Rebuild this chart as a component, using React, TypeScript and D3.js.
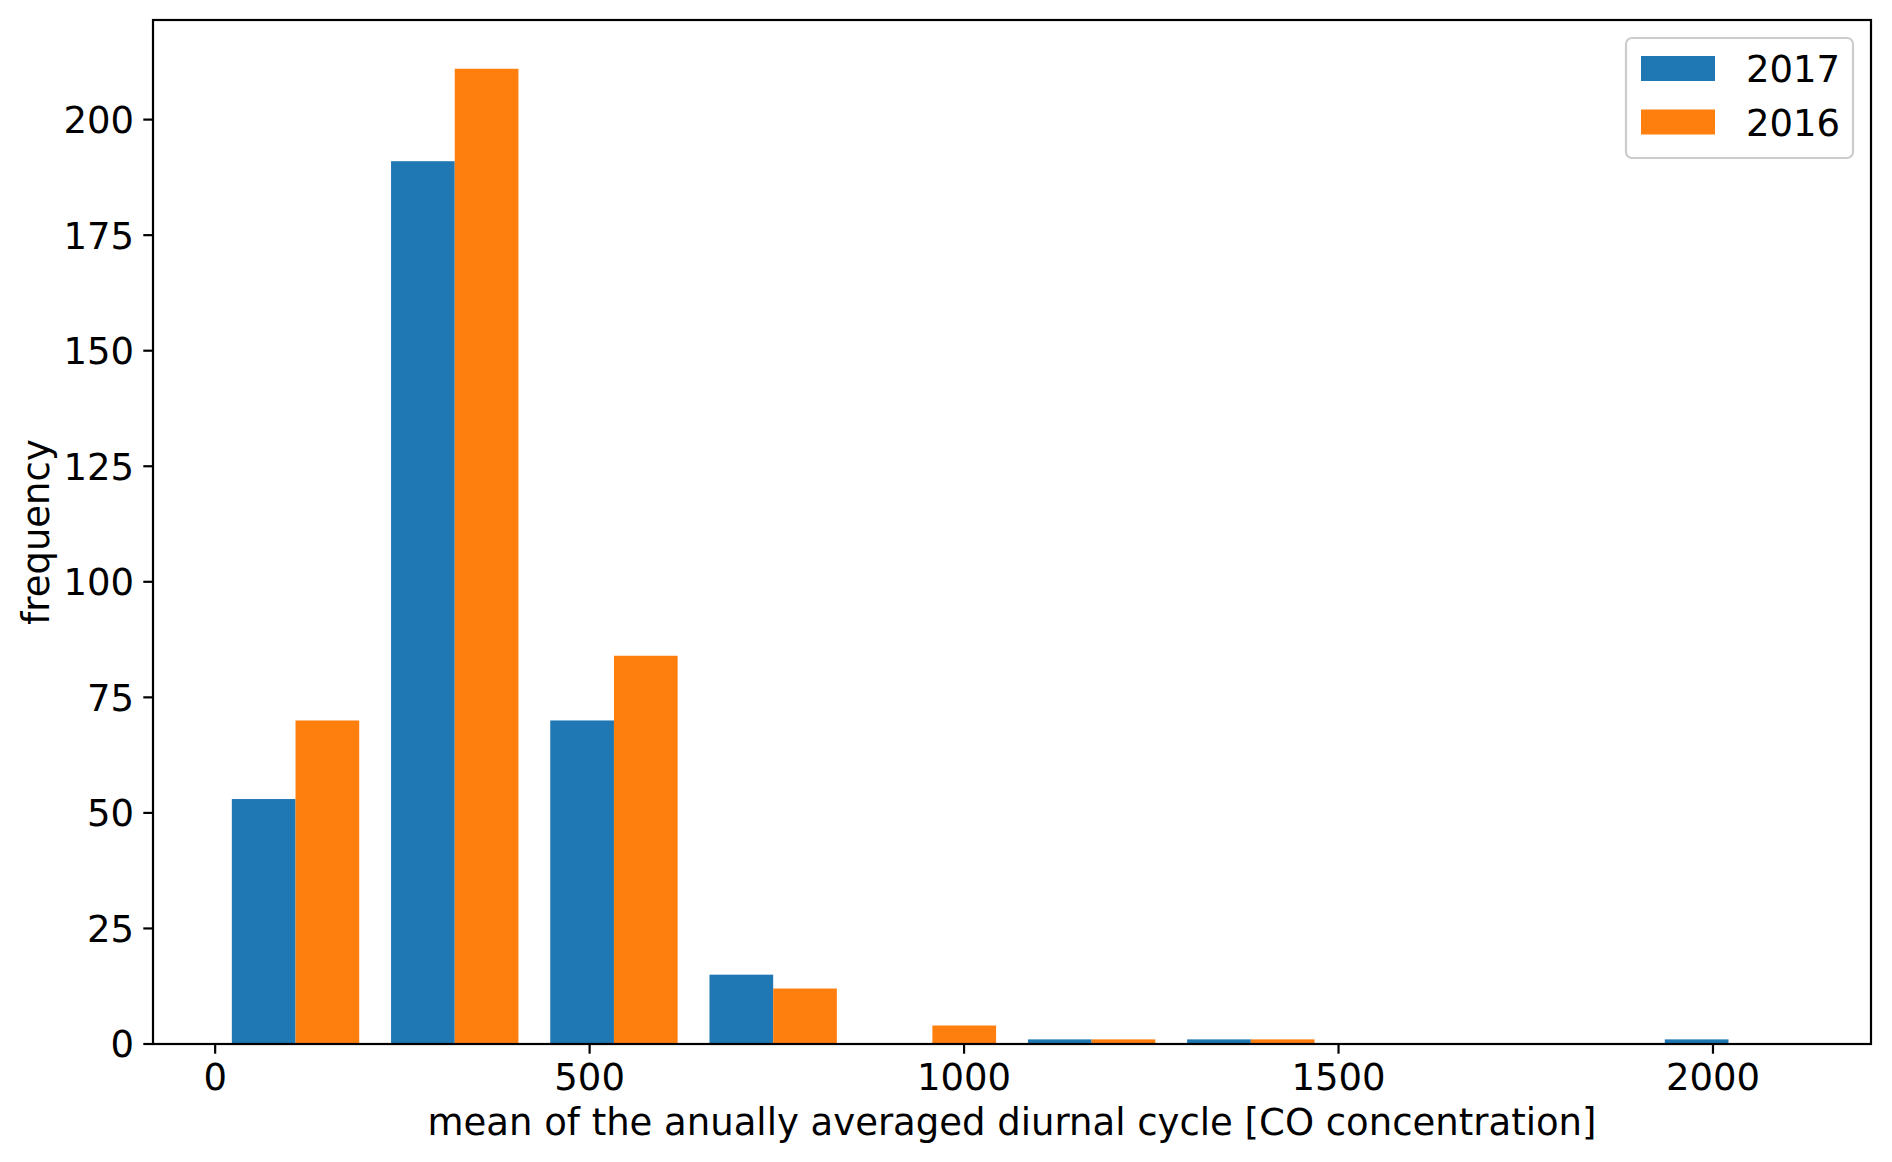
import React, { useEffect } from 'react';
import * as d3 from 'd3';

// histogram bin edges (10 bins)
const binEdges = [1, 213.6, 426.2, 638.8, 851.4, 1064, 1276.6, 1489.2, 1701.8, 1914.4, 2127];
const seriesNames = ['2017', '2016'];
const counts2017 = [53, 191, 70, 15, 0, 1, 1, 0, 0, 1];
const counts2016 = [70, 211, 84, 12, 4, 1, 1, 0, 0, 0];
const xTicks = [0, 500, 1000, 1500, 2000];
const yTicks = [0, 25, 50, 75, 100, 125, 150, 175, 200];

const colors = ['#1f77b4', '#ff7f0e'];
const W = 1892;
const H = 1162;
const left = 153, right = 1871, top = 20, bottom = 1044;
const font = '"DejaVu Sans", sans-serif';
const fs = 37;

export default function App() {
  useEffect(() => {
    document.body.style.margin = '0';
  }, []);

  const x = d3.scaleLinear().domain([-83, 2211]).range([left, right]);
  const y = d3.scaleLinear().domain([0, 221.55]).range([bottom, top]);
  const series = [counts2017, counts2016];

  const bars: React.ReactNode[] = [];
  series.forEach((vals, j) => {
    vals.forEach((v, i) => {
      const w = binEdges[i + 1] - binEdges[i];
      const x0 = binEdges[i] + 0.1 * w + j * 0.4 * w;
      const x1 = x0 + 0.4 * w;
      if (v <= 0) return;
      bars.push(
        <rect
          key={`${j}-${i}`}
          x={x(x0)}
          y={y(v)}
          width={x(x1) - x(x0)}
          height={y(0) - y(v)}
          fill={colors[j]}
        />
      );
    });
  });

  return (
    <svg width={W} height={H} style={{ display: 'block', background: '#fff' }} fontFamily={font}>
      {bars}
      {/* spines */}
      <rect x={left} y={top} width={right - left} height={bottom - top} fill="none" stroke="#000" strokeWidth={2.2} />
      {/* x ticks */}
      {xTicks.map(t => (
        <g key={`x${t}`}>
          <line x1={x(t)} x2={x(t)} y1={bottom} y2={bottom + 9.7} stroke="#000" strokeWidth={2.2} />
          <text x={x(t)} y={1090} textAnchor="middle" fontSize={fs} fill="#000">{t}</text>
        </g>
      ))}
      {/* y ticks */}
      {yTicks.map(t => (
        <g key={`y${t}`}>
          <line x1={left - 9.7} x2={left} y1={y(t)} y2={y(t)} stroke="#000" strokeWidth={2.2} />
          <text x={134} y={y(t)} dy="0.364em" textAnchor="end" fontSize={fs} fill="#000">{t}</text>
        </g>
      ))}
      <text x={(left + right) / 2} y={1135} textAnchor="middle" fontSize={fs} fill="#000">
        mean of the anually averaged diurnal cycle [CO concentration]
      </text>
      <text
        transform={`translate(49,${(top + bottom) / 2}) rotate(-90)`}
        textAnchor="middle"
        fontSize={fs}
        fill="#000"
      >
        frequency
      </text>
      {/* legend */}
      <rect x={1626} y={38} width={227} height={120} rx={6} fill="#fff" fillOpacity={0.8} stroke="#cccccc" strokeWidth={2.2} />
      {seriesNames.map((name, i) => (
        <g key={name}>
          <rect x={1641} y={56 + i * 53.5} width={74} height={25} fill={colors[i]} />
          <text x={1746} y={82 + i * 54} fontSize={fs} fill="#000">{name}</text>
        </g>
      ))}
    </svg>
  );
}
